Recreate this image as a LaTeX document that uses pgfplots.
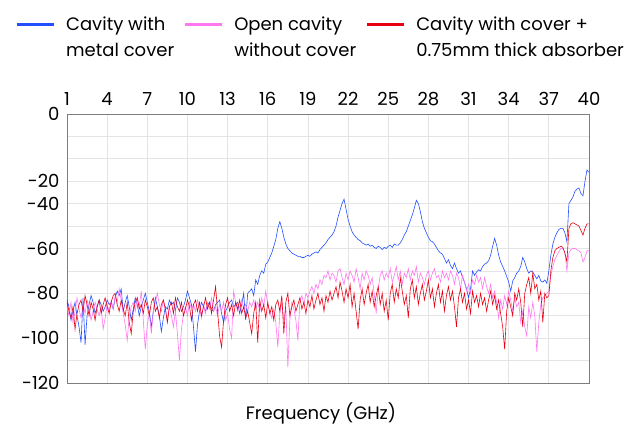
\documentclass[border=0pt]{standalone}
\usepackage{pgfplots}
\pgfplotsset{compat=1.18}
\usepackage{pgfplotstable}
\usepackage{fontspec}
\setmainfont{Poppins}
\definecolor{cblue}{RGB}{35,80,255}
\definecolor{cpink}{RGB}{255,120,240}
\definecolor{cred}{RGB}{232,0,18}
\definecolor{gridc}{RGB}{228,228,228}
\definecolor{axc}{RGB}{125,125,125}

\pgfplotstableread{
x blue pink red
1.00 -83 -86 -84
1.15 -86 -90 -88
1.30 -92 -84 -91
1.45 -88 -93 -86
1.60 -84 -88 -96
1.75 -90 -82 -89
1.90 -95 -87 -85
2.05 -102 -91 -83
2.20 -82 -85 -88
2.35 -103 -89 -81
2.50 -90 -83 -85
2.65 -85 -86 -90
2.80 -81 -92 -84
2.95 -84 -88 -87
3.10 -89 -84 -92
3.25 -86 -87 -86
3.40 -83 -90 -83
3.55 -85 -86 -89
3.70 -88 -96 -85
3.85 -86 -91 -82
4.00 -83 -85 -86
4.15 -85 -88 -89
4.30 -84 -83 -84
4.45 -87 -87 -81
4.60 -82 -81 -80
4.75 -79 -84 -85
4.90 -81 -78 -88
5.05 -78 -83 -83
5.20 -88 -89 -87
5.35 -84 -94 -90
5.50 -81 -101 -84
5.65 -86 -90 -93
5.80 -92 -86 -98
5.95 -87 -84 -88
6.10 -82 -88 -84
6.25 -85 -82 -82
6.40 -90 -86 -87
6.55 -86 -79 -85
6.70 -83 -92 -89
6.85 -80 -105 -83
7.00 -84 -94 -86
7.15 -88 -89 -90
7.30 -95 -98 -84
7.45 -88 -88 -82
7.60 -82 -84 -88
7.75 -86 -80 -86
7.90 -90 -85 -91
8.05 -97 -88 -85
8.20 -91 -83 -83
8.35 -86 -87 -87
8.50 -87 -92 -93
8.65 -83 -86 -86
8.80 -85 -90 -84
8.95 -84 -95 -89
9.10 -88 -88 -82
9.25 -82 -98 -86
9.40 -84 -110 -88
9.55 -88 -96 -84
9.70 -86 -89 -90
9.85 -83 -86 -87
10.00 -79 -90 -83
10.15 -82 -84 -86
10.30 -85 -87 -92
10.45 -95 -85 -85
10.60 -106 -88 -83
10.75 -94 -83 -88
10.90 -88 -86 -84
11.05 -84 -91 -90
11.20 -86 -85 -86
11.35 -88 -89 -82
11.50 -85 -84 -87
11.65 -84 -87 -84
11.80 -87 -82 -89
11.95 -88 -88 -83
12.10 -85 -86 -77
12.25 -84 -90 -88
12.40 -83 -85 -99
12.55 -89 -88 -104
12.70 -93 -84 -92
12.85 -88 -92 -85
13.00 -86 -89 -82
13.15 -84 -96 -88
13.30 -83 -100 -85
13.45 -86 -79 -90
13.60 -85 -84 -84
13.75 -84 -88 -87
13.90 -89 -86 -83
14.05 -85 -83 -89
14.20 -80 -87 -86
14.35 -92 -85 -91
14.50 -80 -88 -88
14.65 -79 -84 -93
14.80 -78 -86 -98
14.95 -81 -83 -89
15.10 -74 -87 -84
15.25 -76 -84 -102
15.40 -72 -88 -83
15.55 -70 -82 -88
15.70 -71 -86 -85
15.85 -67 -79 -91
16.00 -66 -85 -84
16.15 -64 -88 -89
16.30 -62 -91 -86
16.45 -59 -87 -92
16.60 -56 -93 -85
16.75 -51 -104 -83
16.90 -48 -89 -88
17.05 -51 -84 -81
17.20 -55 -92 -98
17.35 -58 -86 -84
17.50 -60 -113 -80
17.65 -61 -92 -90
17.80 -62 -84 -86
17.95 -62.5 -87 -83
18.10 -63 -92 -88
18.25 -63.5 -101 -85
18.40 -63.5 -83 -82
18.55 -64 -81 -87
18.70 -64 -85 -84
18.85 -63.5 -80 -89
19.00 -63 -82 -83
19.15 -63.5 -79 -86
19.30 -62.5 -77 -81
19.45 -62 -80 -87
19.60 -61.5 -76 -83
19.75 -62 -78 -80
19.90 -60.5 -74 -85
20.05 -59.5 -76 -82
20.20 -58.5 -72 -88
20.35 -57.5 -73 -81
20.50 -56 -70 -84
20.65 -55 -74 -79
20.80 -54 -71 -83
20.95 -52.5 -72 -80
21.10 -50 -75 -77
21.25 -46 -70 -82
21.40 -43 -69 -75
21.55 -40 -73 -79
21.70 -38 -76 -84
21.85 -42.5 -71 -78
22.00 -47 -74 -82
22.15 -50 -70 -76
22.30 -52.5 -72 -86
22.45 -54 -75 -80
22.60 -55 -69 -88
22.75 -56 -73 -96
22.90 -56.5 -78 -83
23.05 -57.5 -71 -78
23.20 -58 -74 -85
23.35 -58.5 -70 -80
23.50 -58 -72 -76
23.65 -59 -76 -84
23.80 -58.5 -73 -79
23.95 -59.5 -80 -86
24.10 -60 -89 -81
24.25 -59 -78 -77
24.40 -59.5 -72 -85
24.55 -60.5 -70 -80
24.70 -59.5 -74 -88
24.85 -60 -71 -83
25.00 -59 -73 -92
25.15 -58.5 -69 -80
25.30 -59.5 -75 -76
25.45 -58 -72 -84
25.60 -58.5 -68 -78
25.75 -58.5 -74 -82
25.90 -57.5 -70 -73
26.05 -56 -76 -79
26.20 -54 -71 -85
26.35 -52.5 -73 -81
26.50 -50 -69 -91
26.65 -47.5 -74 -78
26.80 -45 -70 -74
26.95 -42 -72 -82
27.10 -38.5 -68 -77
27.25 -40 -75 -85
27.40 -43.5 -71 -80
27.55 -48 -73 -76
27.70 -51 -76 -83
27.85 -53 -72 -79
28.00 -55 -70 -74
28.15 -56.5 -74 -82
28.30 -57 -71 -78
28.45 -58 -69 -86
28.60 -59.5 -73 -80
28.75 -61 -72 -76
28.90 -62 -75 -84
29.05 -62.5 -70 -79
29.20 -64.5 -73 -88
29.35 -66.5 -71 -81
29.50 -65 -74 -77
29.65 -67.5 -70 -83
29.80 -69 -72 -79
29.95 -66.5 -76 -86
30.10 -69 -71 -95
30.25 -71 -73 -82
30.40 -70 -78 -78
30.55 -73 -72 -84
30.70 -75 -75 -80
30.85 -78 -79 -87
31.00 -82 -76 -83
31.15 -78 -80 -89
31.30 -70 -74 -79
31.45 -72 -76 -84
31.60 -70.5 -72 -81
31.75 -69.5 -75 -86
31.90 -70 -73 -80
32.05 -68 -78 -85
32.20 -67 -73 -82
32.35 -66.5 -77 -88
32.50 -65.5 -80 -83
32.65 -63 -76 -79
32.80 -59 -82 -85
32.95 -55.5 -79 -81
33.10 -58.5 -84 -87
33.25 -63 -91 -83
33.40 -66 -83 -89
33.55 -68 -87 -95
33.70 -70 -81 -105
33.85 -72.5 -85 -88
34.00 -75 -79 -82
34.15 -79 -83 -86
34.30 -74.5 -88 -90
34.45 -73 -82 -80
34.60 -71 -86 -83
34.75 -70 -84 -78
34.90 -68 -93 -84
35.05 -64 -88 -95
35.20 -66 -95 -80
35.35 -69 -99 -76
35.50 -71 -86 -73
35.65 -70 -91 -80
35.80 -70.5 -84 -71
35.95 -72 -90 -78
36.10 -73.5 -106 -76
36.25 -72 -93 -83
36.40 -74.5 -85 -79
36.55 -75 -82 -93
36.70 -74 -81 -80
36.85 -75.5 -80 -82
37.00 -70 -79 -81
37.15 -63 -72 -70
37.30 -58 -68 -64
37.45 -55 -65 -61
37.60 -53 -63 -60
37.75 -51.5 -61.5 -59.5
37.90 -51 -60 -59
38.05 -51 -60 -59.5
38.20 -53 -62 -62
38.35 -57 -70 -66
38.50 -40 -62 -51
38.65 -38.5 -60.5 -49
38.80 -37 -60 -48.5
38.95 -34.5 -60 -49
39.10 -33.5 -60.5 -49.5
39.25 -33 -61 -50
39.40 -35.5 -62 -52
39.55 -36.5 -66 -54
39.70 -30 -64 -51
39.85 -25 -61 -49
40.00 -26 -61 -49
}\data

\begin{document}
\begin{tikzpicture}
\begin{axis}[
  at={(0pt,0pt)}, anchor=south west,
  scale only axis, width=522pt, height=269pt,
  xmin=1, xmax=40, ymin=-120, ymax=0,
  xtick={1,4,...,40},
  ytick={0,-30,-40,-60,-80,-100,-120},
  yticklabels={0,-20,-40,-60,-80,-100,-120},
  minor ytick={-10,-20,-50,-70,-90,-110},
  xticklabel pos=upper,
  grid=both,
  major grid style={gridc, line width=0.8pt},
  minor grid style={gridc, line width=0.8pt},
  axis line style={axc, line width=0.9pt},
  major tick length=0pt, minor tick length=0pt,
  tick label style={font=\fontsize{18}{21}\selectfont, text=black},
  /pgf/number format/assume math mode=true,
  yticklabel style={xshift=-4pt},
  xticklabel style={yshift=5pt},
  xlabel={Frequency (GHz)},
  xlabel style={font=\fontsize{18}{21}\selectfont, at={(axis description cs:0.5,0)}, anchor=base, yshift=-37pt, xshift=-7pt},
  legend columns=3,
  legend cell align=left,
  legend style={at={(axis description cs:-0.1054,1.377)}, anchor=north west,
    draw=none, fill=none, font=\fontsize{18}{26}\selectfont,
    nodes={align=left, inner xsep=0pt},
    /tikz/every odd column/.append style={column sep=11pt},
    /tikz/every even column/.append style={column sep=9pt}},
  legend image code/.code={\draw[#1, line width=3pt, yshift=13pt] (0pt,0pt) -- (37pt,0pt);},
]
\addplot[cblue, line width=0.6pt, no marks] table[x=x, y=blue]{\data};
\addlegendentry{Cavity with\\metal cover}
\addplot[cpink, line width=0.6pt, no marks] table[x=x, y=pink]{\data};
\addlegendentry{Open cavity\\without cover}
\addplot[cred, line width=0.6pt, no marks] table[x=x, y=red]{\data};
\addlegendentry{Cavity with cover +\\0.75mm thick absorber}
\end{axis}
\path (-67pt,-43pt) rectangle (563pt,383pt);
\end{tikzpicture}
\end{document}
